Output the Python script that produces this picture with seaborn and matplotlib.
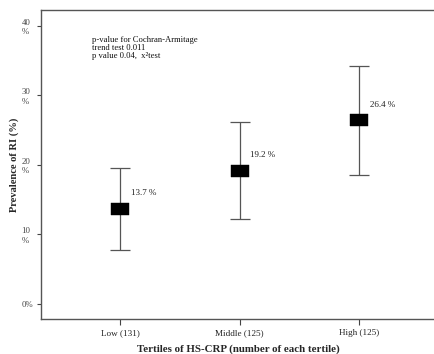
import matplotlib
matplotlib.use("Agg")
import matplotlib.pyplot as plt
import seaborn as sns
import pandas as pd

# Data
groups = ["Low (131)", "Middle (125)", "High (125)"]
prevalence = [13.7, 19.2, 26.4]
ci_low = [7.8, 12.2, 18.5]
ci_high = [19.6, 26.2, 34.3]
value_labels = ["13.7 %", "19.2 %", "26.4 %"]
y_ticks = [0, 10, 20, 30, 40]
y_tick_labels = ["0%", "10\n%", "20\n%", "30\n%", "40\n%"]

sns.set_theme(style="white")
plt.rcParams["font.family"] = ["Liberation Serif", "DejaVu Serif"]

df = pd.DataFrame({"group": groups, "prevalence": prevalence})
pos = list(range(len(groups)))

fig = plt.figure(figsize=(4.34, 3.54), dpi=100)
# axes runs past the right edge of the figure (cropped like the original)
ax = fig.add_axes([0.0945, 0.0989, 0.95, 0.8729])

# error bars (95% CI)
yerr = [[p - lo for p, lo in zip(prevalence, ci_low)],
        [hi - p for p, hi in zip(prevalence, ci_high)]]
ax.errorbar(pos, prevalence, yerr=yerr, fmt="none", ecolor="#555555",
            elinewidth=0.9, capsize=7, capthick=0.9, zorder=2)

# rectangular markers
rect = [(-1, -0.68), (1, -0.68), (1, 0.68), (-1, 0.68), (-1, -0.68)]
sns.scatterplot(data=df, x=pos, y="prevalence", marker=rect, s=150,
                color="black", edgecolor="black", linewidth=0.3,
                ax=ax, zorder=3, legend=False)

for x, v, lab in zip(pos, prevalence, value_labels):
    ax.text(x + 0.09, v + 2.2, lab, ha="left", va="center", fontsize=6.5,
            color="#222222")

ax.text(0.124, 0.915, "p-value for Cochran-Armitage\ntrend test 0.011\np value 0.04,  x²test",
        transform=ax.transAxes, ha="left", va="top", fontsize=6.2,
        linespacing=0.95, color="#111111")

# keep 119.5 px per category as in the original
ax.set_xlim(-0.661, -0.661 + 0.95 * 434 / 119.5)
ax.set_ylim(-2.16, 42.3)
ax.set_xticks(pos)
ax.set_xticklabels(groups, fontsize=6.6, color="#222222")
ax.set_yticks(y_ticks)
ax.set_yticklabels(y_tick_labels, fontsize=6.3, color="#444444")
for t in ax.get_yticklabels():
    t.set_verticalalignment("center_baseline")
    t.set_horizontalalignment("left")
ax.tick_params(axis="y", pad=11, length=3, width=0.8, color="#444444",
               left=True, direction="out")
ax.tick_params(axis="x", pad=3, length=4, width=0.8, color="#444444",
               bottom=True, direction="out")

ax.set_xlabel("Tertiles of HS-CRP (number of each tertile)", fontsize=7.8,
              fontweight="bold")
ax.xaxis.set_label_coords(0.478, -0.082)
ax.set_ylabel("Prevalence of RI (%)", fontsize=7.6, fontweight="bold",
              labelpad=2)

for side in ["left", "top", "bottom"]:
    ax.spines[side].set_color("#555555")
    ax.spines[side].set_linewidth(1.0)
ax.spines["right"].set_visible(False)

fig.savefig("out.png", dpi=100)
